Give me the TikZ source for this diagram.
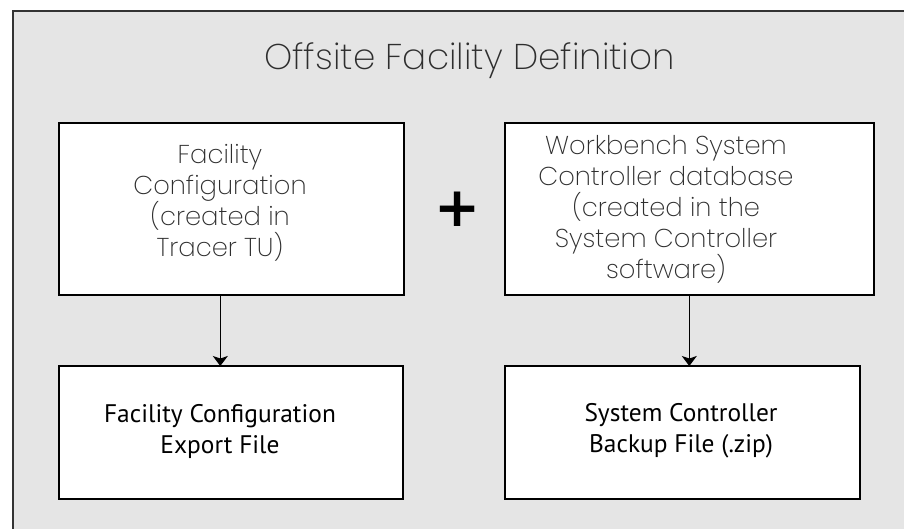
\documentclass[tikz,border=0pt]{standalone}
\usepackage{fontspec}
\usetikzlibrary{arrows.meta}
\IfFontExistsTF{Poppins ExtraLight}
  {\newfontfamily\thinfont{Poppins ExtraLight}}
  {\IfFontExistsTF{Poppins Light}
    {\newfontfamily\thinfont{Poppins Light}}
    {\newfontfamily\thinfont{DejaVu Sans}}}
\newfontfamily\boxfont{PT Sans}
\newfontfamily\plusfont{DejaVu Sans Bold}
\definecolor{panelgrey}{HTML}{E5E5E5}
\definecolor{thingrey}{HTML}{2E2E2E}
\begin{document}
\begin{tikzpicture}[x=1pt,y=-1pt,
  panel/.style={draw=black!80,line width=1.3pt,fill=panelgrey},
  boxshape/.style={draw=black,line width=1.6pt,fill=white,inner sep=0pt,outer sep=0pt},
  thintext/.style={font=\thinfont\fontsize{25.8}{31}\selectfont,text=thingrey,align=center,inner sep=0pt},
  boldtext/.style={font=\boxfont\fontsize{25.4}{31}\selectfont,text=black,align=center,inner sep=0pt},
  arr/.style={draw=black,line width=1.2pt,-{Stealth[length=10pt,width=15pt,inset=2.5pt]}}]
\useasboundingbox (0,0) rectangle (904,529);
\fill[white] (0,0) rectangle (904,529);
\draw[panel] (13,11) rectangle (920,545);
% title
\node[font=\thinfont\fontsize{35.8}{40}\selectfont,text=thingrey,anchor=base,inner sep=0pt] (title) at (469.5,70) {Offsite Facility Definition};
% boxes
\node[boxshape,minimum width=345pt,minimum height=172pt] (tl) at (231.3,209) {};
\node[boxshape,minimum width=369pt,minimum height=172pt] (tr) at (689.5,209) {};
\node[boxshape,minimum width=344pt,minimum height=133pt] (bl) at (231,432.5) {};
\node[boxshape,minimum width=355pt,minimum height=133pt] (br) at (682.5,432.5) {};
% texts
\node[thintext] (tltext) at (220,203) {Facility\\Configuration\\(created in\\Tracer TU)};
\node[thintext] (trtext) at (666,209) {Workbench System\\Controller database\\(created in the\\System Controller\\software)};
\node[boldtext] (bltext) at (220,431) {Facility Configuration\\Export File};
\node[boldtext] (brtext) at (681,431) {System Controller\\Backup File (.zip)};
% plus
\node[font=\plusfont\fontsize{55}{55}\selectfont,inner sep=0pt] (plus) at (458,209.5) {+};
% arrows
\coordinate (lx) at (220.3,0);
\coordinate (rx) at (689.3,0);
\draw[arr] (tl.south -| lx) -- (bl.north -| lx);
\draw[arr] (tr.south -| rx) -- (br.north -| rx);
\end{tikzpicture}
\end{document}
